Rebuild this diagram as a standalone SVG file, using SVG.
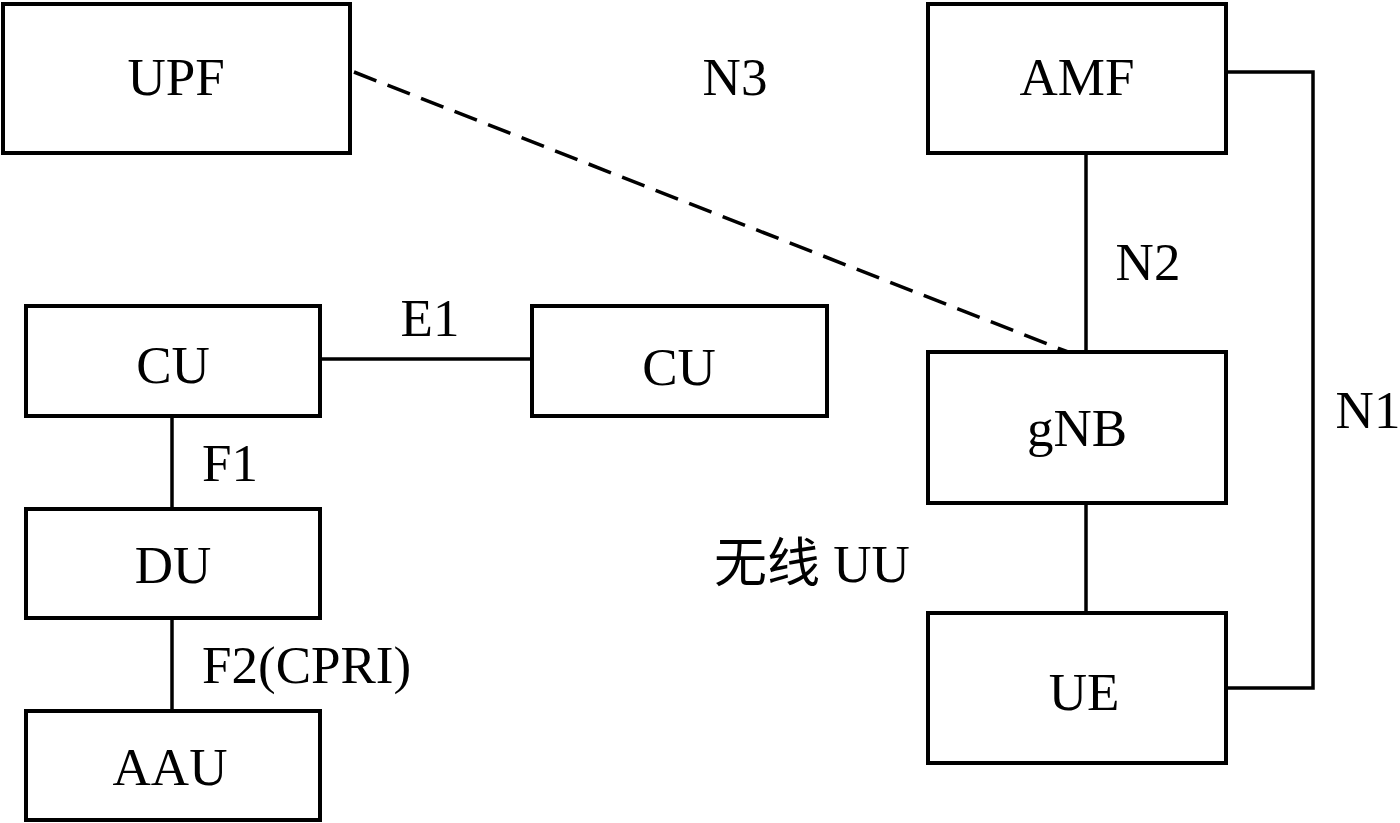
<svg xmlns="http://www.w3.org/2000/svg" width="1400" height="823" viewBox="0 0 1400 823">
<style>
.box{fill:#fff;stroke:#000;stroke-width:4}
.ln{fill:none;stroke:#000;stroke-width:3.5}
.dash{fill:none;stroke:#000;stroke-width:3.5;stroke-dasharray:24 12}
text{font-family:"Liberation Serif","Noto Sans CJK SC",serif;font-size:53px;fill:#000}
.c{text-anchor:middle}
</style>
<rect width="1400" height="823" fill="#fff"/>
<g id="connectors">
<line class="dash" x1="354" y1="72" x2="1068" y2="352"/>
<line class="ln" x1="1086" y1="153" x2="1086" y2="352"/>
<line class="ln" x1="1086" y1="503" x2="1086" y2="613"/>
<polyline class="ln" points="1226,72 1313,72 1313,688 1226,688"/>
<line class="ln" x1="320" y1="359" x2="532" y2="359"/>
<line class="ln" x1="172" y1="416" x2="172" y2="509"/>
<line class="ln" x1="172" y1="618" x2="172" y2="711"/>
<text x="735" y="95" class="c">N3</text>
<text x="1148" y="280" class="c">N2</text>
<text x="1368" y="428" class="c">N1</text>
<text x="430" y="336" class="c">E1</text>
<text x="230" y="481" class="c">F1</text>
<text x="202" y="683">F2(CPRI)</text>
<text x="812" y="582" class="c">无线 UU</text>
</g>
<g id="UPF"><rect class="box" x="3" y="4" width="347" height="149"/><text x="176" y="95" class="c">UPF</text></g>
<g id="AMF"><rect class="box" x="928" y="4" width="298" height="149"/><text x="1077" y="95" class="c">AMF</text></g>
<g id="gNB"><rect class="box" x="928" y="352" width="298" height="151"/><text x="1077" y="446" class="c">gNB</text></g>
<g id="UE"><rect class="box" x="928" y="613" width="298" height="150"/><text x="1084" y="710" class="c">UE</text></g>
<g id="CU1"><rect class="box" x="26" y="306" width="294" height="110"/><text x="173" y="383" class="c">CU</text></g>
<g id="CU2"><rect class="box" x="532" y="306" width="295" height="110"/><text x="679" y="385" class="c">CU</text></g>
<g id="DU"><rect class="box" x="26" y="509" width="294" height="109"/><text x="173" y="583" class="c">DU</text></g>
<g id="AAU"><rect class="box" x="26" y="711" width="294" height="109"/><text x="170" y="785" class="c">AAU</text></g>
</svg>
